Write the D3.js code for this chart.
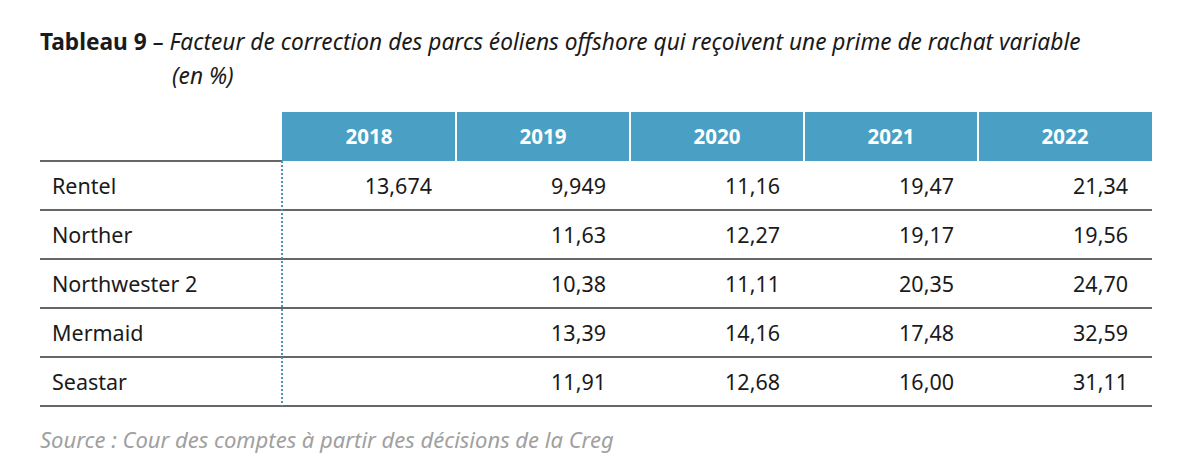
<!DOCTYPE html>
<html>
<head>
<meta charset="utf-8">
<title>Tableau 9</title>
<script src="https://d3js.org/d3.v7.min.js"></script>
<style>
  body { margin: 0; background: #fff; }
  svg text { font-family: "Noto Sans", "Open Sans", sans-serif; }
</style>
</head>
<body>
<svg id="chart" width="1200" height="468"></svg>
<script>
// table data
var years = ["2018", "2019", "2020", "2021", "2022"];
var parks = ["Rentel", "Norther", "Northwester 2", "Mermaid", "Seastar"];
var rentel = ["13,674", "9,949", "11,16", "19,47", "21,34"];
var norther = ["", "11,63", "12,27", "19,17", "19,56"];
var northwester2 = ["", "10,38", "11,11", "20,35", "24,70"];
var mermaid = ["", "13,39", "14,16", "17,48", "32,59"];
var seastar = ["", "11,91", "12,68", "16,00", "31,11"];
var rows = [rentel, norther, northwester2, mermaid, seastar];

var svg = d3.select("#chart");

var left = 40, right = 1152, colStart = 282;
var headTop = 112, headBottom = 161, tableBottom = 406;

var x = d3.scaleBand().domain(years).range([colStart, right]);
var y = d3.scaleBand().domain(parks).range([headBottom, tableBottom]);

// title
var title = svg.append("text").attr("x", left).attr("y", 50)
  .style("font-size", "22.7px").attr("fill", "#1a1a1a");
title.append("tspan").style("font-weight", "bold").text("Tableau 9");
title.append("tspan").style("font-style", "italic")
  .text(" – Facteur de correction des parcs éoliens offshore qui reçoivent une prime de rachat variable");
svg.append("text").attr("x", 172).attr("y", 84)
  .style("font-size", "22.7px").style("font-style", "italic").attr("fill", "#1a1a1a")
  .text("(en %)");

// header band
svg.selectAll("rect.head").data(years).join("rect")
  .attr("class", "head")
  .attr("x", d => x(d)).attr("y", headTop)
  .attr("width", x.bandwidth()).attr("height", headBottom - headTop)
  .attr("fill", "#49a0c4");
svg.selectAll("line.sep").data(years.slice(1)).join("line")
  .attr("class", "sep")
  .attr("x1", d => x(d)).attr("x2", d => x(d))
  .attr("y1", headTop).attr("y2", headBottom)
  .attr("stroke", "#fff").attr("stroke-width", 2);
svg.selectAll("text.year").data(years).join("text")
  .attr("class", "year")
  .attr("x", d => x(d) + x.bandwidth() / 2).attr("y", (headTop + headBottom) / 2 + 7)
  .attr("text-anchor", "middle").attr("fill", "#fff")
  .style("font-size", "20.5px").style("font-weight", "bold")
  .text(d => d);

// line under header (left part)
svg.append("line").attr("x1", left).attr("x2", colStart)
  .attr("y1", headBottom).attr("y2", headBottom)
  .attr("stroke", "#333").attr("stroke-width", 1.5);

// row lines
svg.selectAll("line.row").data(parks).join("line")
  .attr("class", "row")
  .attr("x1", left).attr("x2", right)
  .attr("y1", d => y(d) + y.bandwidth()).attr("y2", d => y(d) + y.bandwidth())
  .attr("stroke", "#333").attr("stroke-width", 1.5);

// dotted separator
svg.append("line").attr("x1", colStart).attr("x2", colStart)
  .attr("y1", headBottom).attr("y2", tableBottom)
  .attr("stroke", "#4a97b5").attr("stroke-width", 2)
  .attr("stroke-dasharray", "2,2");

// labels
svg.selectAll("text.park").data(parks).join("text")
  .attr("class", "park")
  .attr("x", 52).attr("y", d => y(d) + y.bandwidth() / 2 + 8)
  .attr("fill", "#1a1a1a").style("font-size", "21.5px")
  .text(d => d);

// values
rows.forEach(function (vals, i) {
  svg.selectAll("text.v" + i).data(vals).join("text")
    .attr("class", "v" + i)
    .attr("x", (d, j) => x(years[j]) + x.bandwidth() - 24)
    .attr("y", y(parks[i]) + y.bandwidth() / 2 + 8)
    .attr("text-anchor", "end").attr("fill", "#1a1a1a")
    .style("font-size", "21.5px")
    .text(d => d);
});

// source
svg.append("text").attr("x", left).attr("y", 448)
  .style("font-size", "22px").style("font-style", "italic").attr("fill", "#a0a0a0")
  .text("Source : Cour des comptes à partir des décisions de la Creg");
</script>
</body>
</html>
